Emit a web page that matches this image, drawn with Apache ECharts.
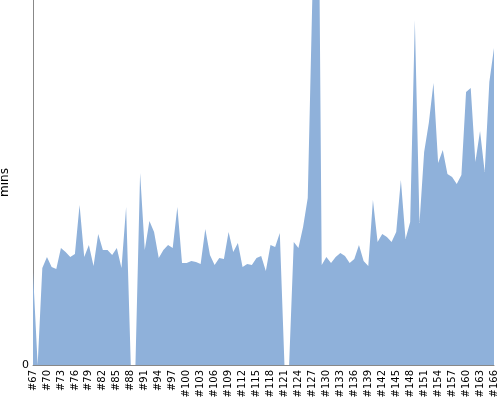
<!DOCTYPE html>
<html>
<head>
<meta charset="utf-8">
<script src="https://cdn.jsdelivr.net/npm/echarts@6/dist/echarts.min.js"></script>
<style>html,body{margin:0;padding:0;background:#fff}#c{width:500px;height:400px}</style>
</head>
<body>
<div id="c"></div>
<script>
var categories = [];
for (var n = 67; n <= 166; n++) categories.push('#' + n);
var values = [
  93, 0, 97, 108, 98, 96, 117, 113, 108, 111,
  160, 108, 120, 99, 131, 115, 115, 110, 117, 97,
  158, 0, 0, 192, 115, 144, 133, 107, 115, 120,
  117, 158, 102, 102, 104, 103, 101, 136, 110, 100,
  107, 106, 133, 113, 122, 98, 101, 100, 107, 109,
  94, 120, 118, 132, 0, 0, 123, 117, 138, 167,
  370, 693, 100, 108, 102, 108, 112, 109, 102, 106,
  120, 104, 99, 165, 123, 131, 128, 123, 133, 185,
  126, 143, 345, 142, 213, 242, 282, 202, 215, 191,
  188, 181, 190, 273, 277, 203, 234, 193, 283, 317
];
var yMax = 365;
var yAxisName = 'mins';

var chart = echarts.init(document.getElementById('c'));
chart.setOption({
  animation: false,
  grid: {left: 33, right: 6, top: 0, bottom: 35, containLabel: false, outerBoundsMode: 'none'},
  xAxis: {
    type: 'category',
    data: categories,
    boundaryGap: false,
    axisLine: {lineStyle: {color: '#888', width: 1}},
    axisTick: {show: false},
    axisLabel: {
      interval: 2, rotate: 90, color: '#000',
      fontFamily: 'DejaVu Sans', fontSize: 10, margin: 5
    },
    splitLine: {show: false}
  },
  yAxis: {
    type: 'value',
    min: 0, max: yMax, interval: yMax,
    name: yAxisName,
    nameLocation: 'middle',
    nameRotate: 90,
    nameGap: 16,
    nameTextStyle: {color: '#000', fontFamily: 'DejaVu Sans', fontSize: 12},
    axisLine: {show: true, lineStyle: {color: '#888', width: 1}},
    axisTick: {show: false},
    axisLabel: {
      color: '#000', fontFamily: 'DejaVu Sans', fontSize: 11, margin: 4,
      formatter: function (v) { return v === 0 ? '0' : ''; }
    },
    splitLine: {show: false}
  },
  series: [{
    type: 'line',
    data: values,
    symbol: 'none',
    smooth: false,
    clip: true,
    lineStyle: {width: 0, color: '#8fb1da'},
    areaStyle: {color: '#8fb1da', opacity: 1}
  }]
});
</script>
</body>
</html>
